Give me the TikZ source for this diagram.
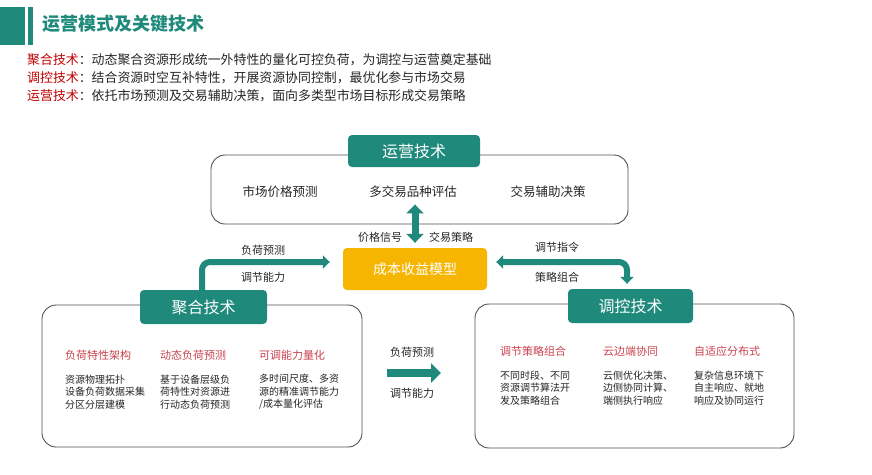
\documentclass[tikz,border=0pt]{standalone}
\usepackage{fontspec}
\setmainfont{Noto Sans CJK SC}
\usetikzlibrary{%
	arrows.meta,%
	calc
}
\definecolor{teal(ppt)}{HTML}{1F8A7C}
\definecolor{red(ppt)}{HTML}{C00000}
\definecolor{rose(ppt)}{HTML}{C9434F}
\definecolor{amber(ppt)}{HTML}{F6B500}
\definecolor{ink(ppt)}{HTML}{262626}

\begin{document}
\begin{tikzpicture}[x=1pt,y=-1pt,
		frame/.style={draw=ink(ppt)!80,line width=0.9pt,rounded corners=14pt,fill=white},
		tag/.style={fill=teal(ppt),rounded corners=4pt,text=white,font=\fontsize{16}{18}\selectfont},
		itemhead/.style={anchor=west,text=rose(ppt),font=\fontsize{11}{13}\selectfont,inner sep=0pt},
		itembody/.style={anchor=west,align=left,text=ink(ppt),font=\fontsize{10}{12.5}\selectfont,inner sep=0pt},
		small/.style={text=ink(ppt),font=\fontsize{11}{13}\selectfont,inner sep=0pt},
		summary/.style={anchor=west,inner sep=0pt,text=ink(ppt),font=\fontsize{12.9}{15}\selectfont},
		flow/.style={draw=teal(ppt),line width=6pt,rounded corners=8pt,-{Triangle[length=7pt,width=13pt]}},
		flowtwo/.style={draw=teal(ppt),line width=6pt,rounded corners=8pt,{Triangle[length=7pt,width=13pt]}-{Triangle[length=7pt,width=13pt]}},
		flowboth/.style={draw=teal(ppt),line width=7pt,{Triangle[length=9pt,width=17pt]}-{Triangle[length=9pt,width=17pt]}},
		flowfat/.style={draw=teal(ppt),line width=8pt,-{Triangle[length=10pt,width=19pt]}}
	]
	\useasboundingbox (0,0) rectangle (872,474);
	% Title bar
	\fill[teal(ppt)] (0,7) rectangle (25,45);
	\fill[teal(ppt)] (28,7) rectangle (33,45);
	\node[anchor=west,text=teal(ppt),font=\fontsize{18}{20}\selectfont\bfseries,inner sep=0pt] (title) at (42,24) {运营模式及关键技术};
	
	% Summary lines
	\node[summary] (line1) at (27,60) {\textcolor{red(ppt)}{聚合技术}：动态聚合资源形成统一外特性的量化可控负荷，为调控与运营奠定基础};
	\node[summary] (line2) at (27,78) {\textcolor{red(ppt)}{调控技术}：结合资源时空互补特性，开展资源协同控制，最优化参与市场交易};
	\node[summary] (line3) at (27,96) {\textcolor{red(ppt)}{运营技术}：依托市场预测及交易辅助决策，面向多类型市场目标形成交易策略};
	
	% Frames
	\node[frame,minimum width=417pt,minimum height=69pt] (opsframe) at (419.5,189.5) {};
	\node[frame,minimum width=320pt,minimum height=142pt] (aggframe) at (202,376) {};
	\node[frame,minimum width=319pt,minimum height=144pt] (ctlframe) at (634.5,376) {};
	
	% Tags
	\node[tag,minimum width=132pt,minimum height=32pt] (ops) at (414,151) {运营技术};
	\node[tag,minimum width=127pt,minimum height=34pt] (agg) at (203.5,307) {聚合技术};
	\node[tag,minimum width=125pt,minimum height=34pt] (ctl) at (630.5,306) {调控技术};
	\node[fill=amber(ppt),rounded corners=4pt,text=white,font=\fontsize{14}{16}\selectfont,minimum width=144pt,minimum height=42pt] (cost) at (415,269) {成本收益模型};
	
	% Operation items
	\node[text=ink(ppt),font=\fontsize{12.5}{15}\selectfont] (ops1) at (280,192) {市场价格预测};
	\node[text=ink(ppt),font=\fontsize{12.5}{15}\selectfont] (ops2) at (413,192) {多交易品种评估};
	\node[text=ink(ppt),font=\fontsize{12.5}{15}\selectfont] (ops3) at (548,192) {交易辅助决策};
	
	% Aggregation items
	\node[itemhead] (aggh1) at (65,355) {负荷特性架构};
	\node[itemhead] (aggh2) at (160,355) {动态负荷预测};
	\node[itemhead] (aggh3) at (259,355) {可调能力量化};
	\node[itembody] (aggb1) at (65,392) {资源物理拓扑\\设备负荷数据采集\\分区分层建模};
	\node[itembody] (aggb2) at (160,392) {基于设备层级负\\荷特性对资源进\\行动态负荷预测};
	\node[itembody] (aggb3) at (259,392) {多时间尺度、多资\\源的精准调节能力\\/成本量化评估};
	
	% Control items
	\node[itemhead] (ctlh1) at (500,351) {调节策略组合};
	\node[itemhead] (ctlh2) at (603,351) {云边端协同};
	\node[itemhead] (ctlh3) at (694,351) {自适应分布式};
	\node[itembody] (ctlb1) at (500,388) {不同时段、不同\\资源调节算法开\\发及策略组合};
	\node[itembody] (ctlb2) at (603,388) {云侧优化决策、\\边侧协同计算、\\端侧执行响应};
	\node[itembody] (ctlb3) at (694,388) {复杂信息环境下\\自主响应、就地\\响应及协同运行};
	
	% Connectors
	\draw[flowboth] ([yshift=5pt]cost.north) -- ([yshift=20pt]opsframe.south -| cost.north);
	\draw[flow,shorten >=7pt] ([xshift=-1.5pt]agg.north) |- ([xshift=-6pt,yshift=7pt]cost.west);
	\draw[flowtwo,shorten >=5pt] ([xshift=9pt,yshift=7pt]cost.east) -| ([xshift=-3.5pt]ctl.north);
	\coordinate (midfrom) at (387,373);
	\coordinate (midto) at (441,373);
	\draw[flowfat] (midfrom) -- (midto);
	
	% Connector labels
	\node[small] (lblprice) at (380,237) {价格信号};
	\node[small] (lbltrade) at (451,237) {交易策略};
	\node[small] (lblload1) at (263,250) {负荷预测};
	\node[small] (lblcap1) at (263,277) {调节能力};
	\node[small] (lblcmd) at (557,247) {调节指令};
	\node[small] (lblcomb) at (557,277) {策略组合};
	\node[small] (lblload2) at (412,352) {负荷预测};
	\node[small] (lblcap2) at (412,393) {调节能力};
\end{tikzpicture}
\end{document}
